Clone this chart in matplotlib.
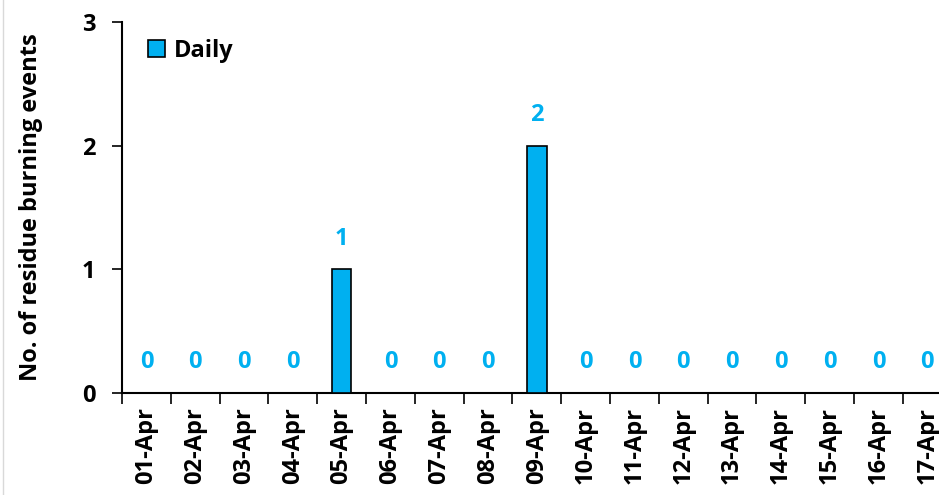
import matplotlib
matplotlib.use("Agg")
import matplotlib.pyplot as plt
from matplotlib.lines import Line2D

categories = ["01-Apr", "02-Apr", "03-Apr", "04-Apr", "05-Apr", "06-Apr", "07-Apr", "08-Apr",
              "09-Apr", "10-Apr", "11-Apr", "12-Apr", "13-Apr", "14-Apr", "15-Apr", "16-Apr", "17-Apr"]
daily = [0, 0, 0, 0, 1, 0, 0, 0, 2, 0, 0, 0, 0, 0, 0, 0, 0]
yticks = [0, 1, 2, 3]

plt.rcParams['font.family'] = ['Open Sans', 'DejaVu Sans']
plt.rcParams['font.weight'] = 'bold'

fig = plt.figure(figsize=(9.39, 4.95), dpi=100)
W, H = 939, 495
left_px, right_px, top_px, bot_px = 122, 122 + 17 * 48.8, 22, 393
ax = fig.add_axes([left_px / W, 1 - bot_px / H, (right_px - left_px) / W, (bot_px - top_px) / H])

blue = "#00B0F0"
FS = 17
x = list(range(len(categories)))
ax.bar(x, daily, width=0.4, color=blue, edgecolor="black", linewidth=1.2, label="Daily", zorder=3)
for xi, v in zip(x, daily):
    ax.annotate(str(v), (xi, v), xytext=(0, 22), textcoords="offset points",
                ha="center", va="center", color=blue, fontsize=FS, fontweight="bold")

ax.set_xlim(-0.5, len(categories) - 0.5)
ax.set_ylim(0, 3)
ax.set_yticks(yticks)
ax.set_yticklabels([str(t) for t in yticks], fontsize=FS, fontweight="bold")
ax.set_xticks([i - 0.5 for i in range(len(categories) + 1)], minor=False)
ax.set_xticklabels([])
ax.set_xticks(x, minor=True)
ax.set_xticklabels(categories, minor=True, rotation=90, fontsize=FS, fontweight="bold")
ax.tick_params(axis="x", which="major", length=8, width=1.2, direction="out")
ax.tick_params(axis="x", which="minor", length=0, pad=10)
ax.tick_params(axis="y", length=7, width=1.2, direction="out", pad=12)

for s in ["top", "right"]:
    ax.spines[s].set_visible(False)
for s in ["left", "bottom"]:
    ax.spines[s].set_linewidth(1.5)

ax.set_ylabel("No. of residue burning events", fontsize=FS, fontweight="bold", labelpad=28)

ax.legend(loc="upper left", bbox_to_anchor=(0.02, 0.98), frameon=False, fontsize=FS,
          handlelength=0.7, handleheight=0.7, handletextpad=0.4, borderaxespad=0)

fig.add_artist(Line2D([3 / W, 3 / W], [0, 1], color="#d9d9d9", linewidth=1))

fig.savefig("out.png", dpi=100)
